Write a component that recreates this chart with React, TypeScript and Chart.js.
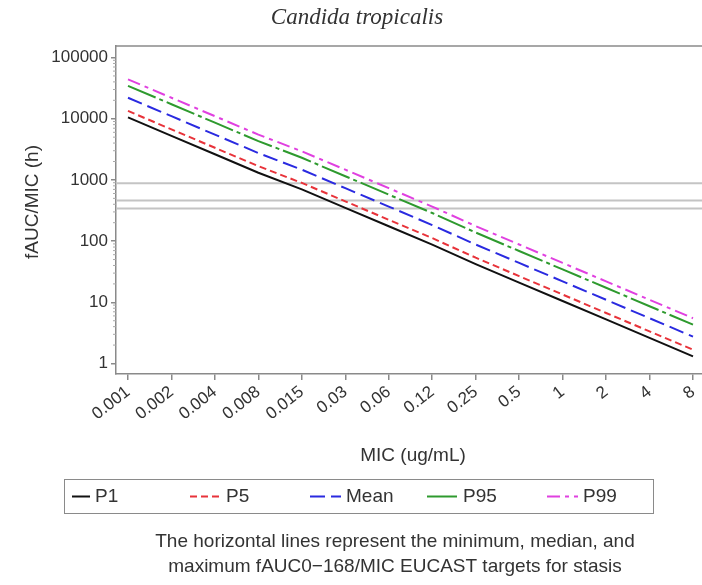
import React, { useEffect, useRef } from "react";
import { Chart, registerables } from "chart.js";
Chart.register(...registerables);

const MIC_LABELS = ["0.001", "0.002", "0.004", "0.008", "0.015", "0.03", "0.06", "0.12", "0.25", "0.5", "1", "2", "4", "8"];
const P1 = [10500, 5250, 2630, 1310, 700, 350, 175, 87.5, 42, 21, 10.5, 5.25, 2.63, 1.31];
const P5 = [13400, 6700, 3350, 1680, 893, 447, 223, 112, 53.6, 26.8, 13.4, 6.7, 3.35, 1.68];
const MEAN = [22000, 11000, 5500, 2750, 1470, 733, 367, 183, 88, 44, 22, 11, 5.5, 2.75];
const P95 = [34500, 17250, 8630, 4310, 2300, 1150, 575, 288, 138, 69, 34.5, 17.3, 8.63, 4.31];
const P99 = [44000, 22000, 11000, 5500, 2930, 1470, 733, 367, 176, 88, 44, 22, 11, 5.5];
const SERIES_NAMES = ["P1", "P5", "Mean", "P95", "P99"];
const TARGETS = [340, 460, 880];
const Y_TICKS = [1, 10, 100, 1000, 10000, 100000];
const TITLE = "Candida tropicalis";
const X_TITLE = "MIC (ug/mL)";
const Y_TITLE = "fAUC/MIC (h)";
const CAPTION = [
  "The horizontal lines represent the minimum, median, and",
  "maximum fAUC0\u2212168/MIC EUCAST targets for stasis",
];

const COLORS = ["#111111", "#e8333a", "#2a2ae0", "#2e9a2e", "#e040e0"];
const DASHES: number[][] = [[], [7, 4], [15, 6], [30, 4, 4, 4], [13, 5, 4, 5]];

const FONT = "'Liberation Sans', Arial, sans-serif";
const TEXT = "#333333";
const AXIS = "#8a8a8a";

const decor = {
  id: "decor",
  beforeDatasetsDraw(chart: any) {
    const { ctx, chartArea, scales } = chart;
    ctx.save();
    ctx.strokeStyle = "#c4c4c4";
    ctx.lineWidth = 2;
    TARGETS.forEach((t) => {
      const y = scales.y.getPixelForValue(t);
      ctx.beginPath();
      ctx.moveTo(chartArea.left, y);
      ctx.lineTo(chartArea.right, y);
      ctx.stroke();
    });
    ctx.restore();
  },
  afterDraw(chart: any) {
    const { ctx, chartArea, scales } = chart;
    ctx.save();
    // top frame
    ctx.strokeStyle = AXIS;
    ctx.lineWidth = 1.5;
    ctx.beginPath();
    ctx.moveTo(chartArea.left, chartArea.top);
    ctx.lineTo(chartArea.right, chartArea.top);
    ctx.stroke();
    // minor ticks on y
    ctx.strokeStyle = "#a8a8a8";
    ctx.lineWidth = 1;
    for (let d = 0; d < 6; d++) {
      for (let m = 2; m <= 9; m++) {
        const v = m * Math.pow(10, d);
        const y = scales.y.getPixelForValue(v);
        if (y < chartArea.top || y > chartArea.bottom) continue;
        ctx.beginPath();
        ctx.moveTo(chartArea.left - 3, y);
        ctx.lineTo(chartArea.left, y);
        ctx.stroke();
      }
    }
    // title
    ctx.fillStyle = TEXT;
    ctx.textAlign = "center";
    ctx.textBaseline = "middle";
    ctx.font = "italic 23px 'Liberation Serif', 'Times New Roman', serif";
    ctx.fillText(TITLE, 357, 18);
    // axis titles
    ctx.font = `19px ${FONT}`;
    ctx.fillText(X_TITLE, 413, 456);
    ctx.save();
    ctx.translate(33, 202);
    ctx.rotate(-Math.PI / 2);
    ctx.fillText(Y_TITLE, 0, 0);
    ctx.restore();
    // legend
    ctx.strokeStyle = AXIS;
    ctx.lineWidth = 1;
    ctx.strokeRect(64.5, 479.5, 589, 34);
    const textX = [95, 226, 346, 463, 583];
    ctx.font = `19px ${FONT}`;
    ctx.textAlign = "left";
    chart.data.datasets.forEach((ds: any, i: number) => {
      const tx = textX[i];
      const y = 496.5;
      ctx.save();
      ctx.strokeStyle = ds.borderColor;
      ctx.lineWidth = 2;
      ctx.setLineDash(ds.borderDash || []);
      ctx.beginPath();
      ctx.moveTo(Math.max(72, tx - 36), y);
      ctx.lineTo(tx - 5, y);
      ctx.stroke();
      ctx.restore();
      ctx.fillStyle = TEXT;
      ctx.fillText(ds.label, tx, y);
    });
    // caption
    ctx.textAlign = "center";
    ctx.font = `19px ${FONT}`;
    ctx.fillText(CAPTION[0], 395, 542);
    ctx.fillText(CAPTION[1], 395, 567);
    ctx.restore();
  },
};

export default function App() {
  const ref = useRef<HTMLCanvasElement>(null);
  useEffect(() => {
    const series = [P1, P5, MEAN, P95, P99];
    const chart = new Chart(ref.current!, {
      type: "line",
      data: {
        datasets: series.map((s, i) => ({
          label: SERIES_NAMES[i],
          data: s.map((y, x) => ({ x, y })),
          borderColor: COLORS[i],
          backgroundColor: COLORS[i],
          borderDash: DASHES[i],
          borderWidth: 2,
          pointRadius: 0,
          fill: false,
          tension: 0,
        })),
      },
      plugins: [decor],
      options: {
        animation: false,
        responsive: false,
        devicePixelRatio: 1,
        layout: { padding: { top: 46, left: 0, right: 0, bottom: 0 }, autoPadding: false },
        plugins: { legend: { display: false }, tooltip: { enabled: false }, title: { display: false } },
        scales: {
          x: {
            type: "linear",
            min: -0.276,
            max: 13.207,
            afterBuildTicks: (s: any) => {
              s.ticks = MIC_LABELS.map((_, i) => ({ value: i }));
            },
            afterFit: (s: any) => {
              s.height = 211;
              s.paddingLeft = 0;
              s.paddingRight = 0;
              s.paddingTop = 0;
              s.paddingBottom = 0;
            },
            ticks: {
              autoSkip: false,
              minRotation: 38,
              maxRotation: 38,
              padding: 2,
              color: TEXT,
              font: { family: FONT, size: 17 },
              callback: (v: any) => MIC_LABELS[v] ?? "",
            },
            grid: { drawOnChartArea: false, drawTicks: true, tickLength: 6, color: AXIS, lineWidth: 1.5 },
            border: { color: AXIS, width: 1.5 },
          },
          y: {
            type: "logarithmic",
            min: 0.674,
            max: 154300,
            afterBuildTicks: (s: any) => {
              s.ticks = Y_TICKS.map((v) => ({ value: v, major: true }));
            },
            afterFit: (s: any) => {
              s.width = 116;
              s.paddingLeft = 0;
              s.paddingRight = 0;
              s.paddingTop = 0;
              s.paddingBottom = 0;
            },
            ticks: {
              autoSkip: false,
              padding: 3,
              color: TEXT,
              font: { family: FONT, size: 17 },
              callback: (v: any) => String(v),
            },
            grid: { drawOnChartArea: false, drawTicks: true, tickLength: 5, color: AXIS, lineWidth: 1.5 },
            border: { color: AXIS, width: 1.5 },
          },
        },
      },
    } as any);
    return () => chart.destroy();
  }, []);
  return (
    <div style={{ position: "fixed", left: 0, top: 0, width: 702, height: 585, background: "#ffffff" }}>
      <canvas ref={ref} width={702} height={585} style={{ display: "block", width: 702, height: 585 }} />
    </div>
  );
}
